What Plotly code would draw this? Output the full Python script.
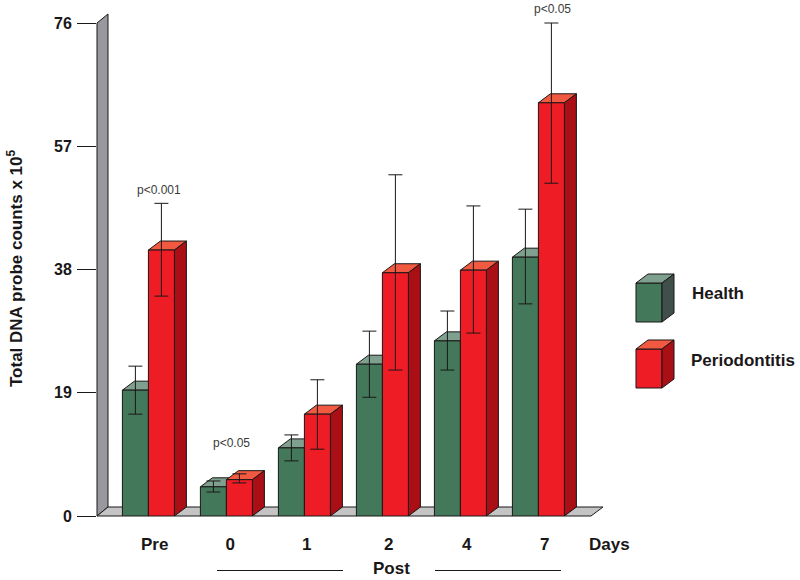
import plotly.graph_objects as go

# ---- data ----
categories = ["Pre", "0", "1", "2", "4", "7"]
health = [19.4, 4.5, 10.5, 23.4, 27.0, 39.9]
health_hi = [23.1, 5.4, 12.5, 28.5, 31.6, 47.3]
health_lo = [15.7, 3.7, 8.5, 18.3, 22.5, 32.7]
perio = [41.0, 5.6, 15.7, 37.5, 37.9, 63.7]
perio_hi = [48.2, 6.5, 21.0, 52.6, 47.8, 76.0]
perio_lo = [33.9, 5.1, 10.3, 22.5, 28.2, 51.3]
y_ticks = [0, 19, 38, 57, 76]
p_labels = ["p<0.001", "p<0.05", "p<0.05"]
p_groups = [0.13, 1.06, 5.18]
p_heights = [50.3, 11.3, 78.2]
label_shift = [0.08, 0.05, 0.03, 0.08, 0.08, 0.08]

# ---- geometry ----
W, H = 800, 580
L, B = 97, 64
PX_Y = 493 / 76
PITCH = 78
BAR = 1 / 3
DX = 12 / PITCH
DY = 9 / PX_Y
x_range = [(97 - 148.4) / PITCH, (800 - 148.4) / PITCH]
y_range = [0, 516 / PX_Y]
INK = "#1a1718"

GREEN, GREEN_T, GREEN_S = "#44785a", "#7fa08e", "#3f4f4a"
RED, RED_T, RED_S = "#ee1c25", "#f15a40", "#a90f14"


def px(xp):
    return (xp - L) / (W - L)


def py(yp):
    return (516 - yp) / 516


def poly(points):
    return "M" + " L".join(f"{px(a):.5f},{py(b):.5f}" for a, b in points) + " Z"


def shape(points, fill, width=1):
    return dict(type="path", path=poly(points), xref="paper", yref="paper",
                fillcolor=fill, line=dict(color=INK, width=width), layer="below")


def cube(x0, y0, w, h, front, top, side):
    return [
        shape([(x0, y0), (x0 + w, y0), (x0 + w, y0 + h), (x0, y0 + h)], front),
        shape([(x0, y0), (x0 + 12, y0 - 9), (x0 + w + 12, y0 - 9), (x0 + w, y0)], top),
        shape([(x0 + w, y0), (x0 + w + 12, y0 - 9), (x0 + w + 12, y0 + h - 9), (x0 + w, y0 + h)], side),
    ]


def faces(values, start):
    top_x, top_y, side_x, side_y = [], [], [], []
    for i, v in enumerate(values):
        a, b = i + start, i + start + BAR
        top_x += [a, a + DX, b + DX, b, a, None]
        top_y += [v, v + DY, v + DY, v, v, None]
        side_x += [b, b + DX, b + DX, b, b, None]
        side_y += [0, DY, v + DY, v, 0, None]
    return top_x, top_y, side_x, side_y


fig = go.Figure()
idx = list(range(len(categories)))


def series(name, values, hi, lo, start, front, top, side, z):
    tx, ty, sx, sy = faces(values, start)
    for xs, ys, col in ((tx, ty, top), (sx, sy, side)):
        fig.add_trace(go.Scatter(x=xs, y=ys, mode="lines", fill="toself", fillcolor=col,
                                 line=dict(color=INK, width=1), hoverinfo="skip",
                                 showlegend=False, zorder=z, cliponaxis=False))
    fig.add_trace(go.Bar(
        x=idx, y=values, name=name, width=BAR, offset=start,
        marker=dict(color=front, line=dict(color=INK, width=1)),
        showlegend=False, zorder=z + 1,
        error_y=dict(type="data", symmetric=False,
                     array=[a - b for a, b in zip(hi, values)],
                     arrayminus=[b - a for a, b in zip(lo, values)],
                     color=INK, thickness=1, width=7),
    ))


series("Health", health, health_hi, health_lo, -BAR, GREEN, GREEN_T, GREEN_S, 1)
series("Periodontitis", perio, perio_hi, perio_lo, 0, RED, RED_T, RED_S, 3)

shapes = [
    shape([(97, 516), (97, 23), (108, 14), (108, 507)], "#98989e"),
    shape([(97, 516), (108, 507), (603, 507), (591, 516)], "#c4c4c4"),
]
shapes += cube(636, 283, 26, 39, GREEN, GREEN_T, GREEN_S)
shapes += cube(636, 349, 26, 39, RED, RED_T, RED_S)
for a, b in ((217, 343), (435, 561)):
    shapes.append(dict(type="line", xref="paper", yref="paper", x0=px(a), x1=px(b),
                       y0=py(570.5), y1=py(570.5), line=dict(color=INK, width=1)))

annotations = [
    dict(x=g, y=v, xref="x", yref="y", text=t, showarrow=False,
         font=dict(size=12, color="#3a3a3a"), xanchor="center", yanchor="middle")
    for t, g, v in zip(p_labels, p_groups, p_heights)
]
BOLD = dict(family="Liberation Sans", color=INK)


def label(xp, yp, text, size, **kw):
    return dict(x=px(xp), y=py(yp), xref="paper", yref="paper", showarrow=False,
                xanchor="center", yanchor="middle", text=f"<b>{text}</b>",
                font=dict(size=size, **BOLD), **kw)


annotations += [
    label(15, 269, "Total DNA probe counts x 10<sup>5</sup>", 17, textangle=-90),
    label(391, 568, "Post", 17),
    label(718, 293, "Health", 17),
    label(743, 360, "Periodontitis", 17),
]

fig.update_layout(
    width=W, height=H, barmode="overlay", plot_bgcolor="white", paper_bgcolor="white",
    margin=dict(l=L, r=0, t=0, b=B, autoexpand=False),
    font=dict(family="Liberation Sans", color=INK),
    shapes=shapes, annotations=annotations, showlegend=False,
    xaxis=dict(range=x_range, showgrid=False, zeroline=False, showline=False, ticks="",
               tickmode="array",
               tickvals=[i + s for i, s in zip(idx, label_shift)] + [5.91],
               ticktext=[f"<b>{c}</b>" for c in categories] + ["<b>Days</b>"],
               tickfont=dict(size=17), ticklabelstandoff=16),
    yaxis=dict(range=y_range, showgrid=False, zeroline=False, showline=False, ticks="outside",
               ticklen=19, tickwidth=1, tickcolor=INK, tickmode="array", tickvals=y_ticks,
               ticktext=[f"<b>{t}</b>" for t in y_ticks], tickfont=dict(size=16),
               ticklabelstandoff=2),
)

fig.write_html("out.html", config={"displayModeBar": False},
               post_script="document.body.style.margin='0';")
